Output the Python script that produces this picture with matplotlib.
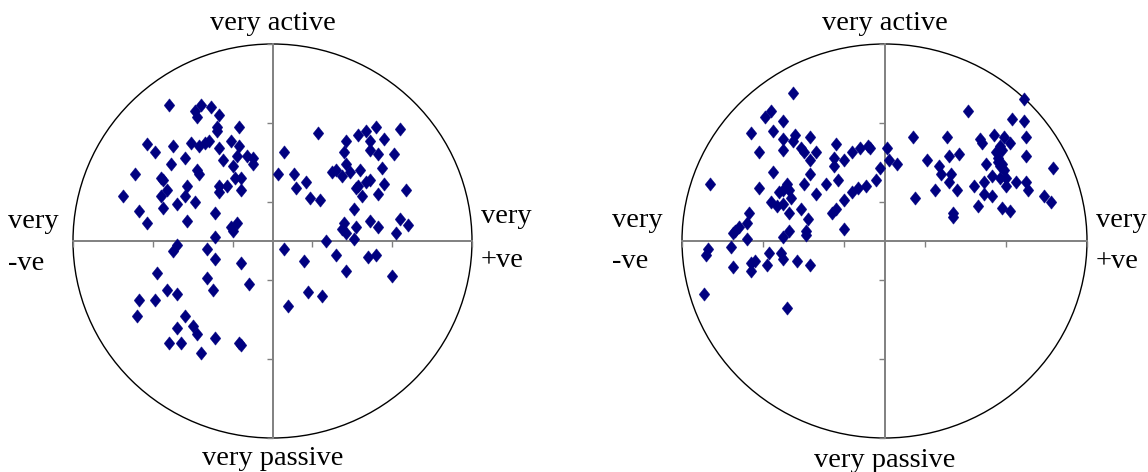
import matplotlib
matplotlib.use("Agg")
import matplotlib.pyplot as plt
from matplotlib.patches import Ellipse
from matplotlib.path import Path

plt.rcParams['font.family'] = ['Liberation Serif', 'DejaVu Serif']

# ---------------- data (valence x, activity y) ----------------
left_x = [-0.52, -0.39, -0.36, -0.38, -0.31, -0.27, -0.28, -0.28, -0.17,
          -0.63, -0.59, -0.50, -0.41, -0.37, -0.34, -0.32, -0.27, -0.21, -0.17,
          -0.51, -0.44, -0.25, -0.20, -0.18, -0.13, -0.10, -0.10,
          -0.69, -0.56, -0.55, -0.38, -0.37, -0.19, -0.16,
          -0.75, -0.56, -0.53, -0.43, -0.44, -0.27, -0.27, -0.23, -0.16,
          -0.67, -0.55, -0.48, -0.39, -0.29,
          -0.63, -0.43, -0.21, -0.18, -0.20, -0.29,
          -0.48, -0.50, -0.33,
          -0.29, -0.16, -0.58, -0.33, -0.12, -0.30, -0.53, -0.48, -0.67, -0.59,
          -0.68, -0.44, -0.48, -0.40, -0.38, -0.29, -0.52, -0.46, -0.36, -0.17, -0.16,
          0.23, 0.37, 0.43, 0.47, 0.52, 0.56, 0.64, 0.49,
          0.06, 0.36, 0.49, 0.53, 0.61,
          0.03, 0.11, 0.17, 0.12, 0.30, 0.32, 0.35, 0.37, 0.39, 0.44, 0.55,
          0.19, 0.24, 0.43, 0.47, 0.49, 0.45, 0.53, 0.56, 0.67, 0.42,
          0.41, 0.36, 0.35, 0.37, 0.42, 0.49, 0.53, 0.64, 0.68, 0.62, 0.41, 0.27,
          0.06, 0.16, 0.32, 0.48, 0.52, 0.37, 0.60, 0.18, 0.25, 0.08]
left_y = [0.69, 0.66, 0.69, 0.63, 0.68, 0.64, 0.58, 0.56, 0.58,
          0.49, 0.45, 0.48, 0.50, 0.48, 0.50, 0.51, 0.47, 0.51, 0.48,
          0.39, 0.42, 0.41, 0.38, 0.43, 0.43, 0.42, 0.39,
          0.34, 0.32, 0.31, 0.36, 0.34, 0.32, 0.32,
          0.23, 0.23, 0.26, 0.28, 0.23, 0.28, 0.25, 0.28, 0.26,
          0.15, 0.17, 0.19, 0.20, 0.14,
          0.09, 0.10, 0.07, 0.09, 0.05, 0.02,
          -0.02, -0.05, -0.04,
          -0.09, -0.11, -0.16, -0.19, -0.22, -0.25, -0.25, -0.27, -0.30, -0.30,
          -0.38, -0.38, -0.44, -0.43, -0.47, -0.49, -0.52, -0.52, -0.57, -0.52, -0.53,
          0.55, 0.51, 0.54, 0.56, 0.58, 0.52, 0.57, 0.51,
          0.45, 0.45, 0.46, 0.44, 0.44,
          0.34, 0.34, 0.30, 0.27, 0.35, 0.36, 0.33, 0.39, 0.35, 0.36, 0.37,
          0.22, 0.21, 0.28, 0.30, 0.31, 0.23, 0.24, 0.29, 0.26, 0.27,
          0.16, 0.09, 0.06, 0.04, 0.07, 0.10, 0.07, 0.11, 0.08, 0.04, 0.01, 0.00,
          -0.04, -0.10, -0.07, -0.08, -0.07, -0.15, -0.18, -0.26, -0.28, -0.33]

right_x = [-0.45, -0.59, -0.56, -0.50, -0.66, -0.55, -0.44, -0.50, -0.45, -0.37,
           -0.50, -0.62, -0.41, -0.40, -0.37, -0.34, -0.24, -0.16, -0.12, -0.08,
           -0.07, 0.01, -0.86, -0.55, -0.62, -0.52, -0.50, -0.48, -0.47, -0.46,
           -0.56, -0.53, -0.50, -0.40, -0.37, -0.34, -0.29, -0.25, -0.25, -0.20,
           -0.23, -0.20, -0.16, -0.13, -0.09, -0.04, -0.02, 0.02, 0.06,
           -0.67, -0.68, -0.72, -0.74, -0.75, -0.68, -0.47, -0.41, -0.38, -0.39,
           -0.39, -0.47, -0.50, -0.26, -0.24, -0.20,
           -0.76, -0.87, -0.88, -0.57, -0.58, -0.51, -0.50, -0.43, -0.37, -0.75,
           -0.66, -0.64, -0.66, -0.89, -0.48,
           0.69, 0.41, 0.63, 0.69, 0.14, 0.31, 0.47, 0.48, 0.54, 0.59, 0.62, 0.70,
           0.57, 0.58, 0.55, 0.70, 0.21, 0.32, 0.37, 0.27, 0.28, 0.33, 0.32,
           0.50, 0.56, 0.58, 0.59, 0.53, 0.57, 0.60, 0.60, 0.65, 0.70, 0.71,
           0.83, 0.79, 0.82, 0.15, 0.25, 0.36, 0.44, 0.49, 0.49, 0.53, 0.46,
           0.58, 0.62, 0.34, 0.34, 0.56, 0.57]
right_y = [0.75, 0.63, 0.66, 0.61, 0.55, 0.56, 0.54, 0.52, 0.51, 0.53,
           0.46, 0.45, 0.47, 0.45, 0.41, 0.45, 0.49, 0.45, 0.47, 0.48,
           0.47, 0.47, 0.29, 0.35, 0.27, 0.25, 0.26, 0.29, 0.26, 0.22,
           0.20, 0.18, 0.19, 0.29, 0.34, 0.24, 0.29, 0.42, 0.38, 0.41,
           0.31, 0.21, 0.25, 0.27, 0.28, 0.31, 0.37, 0.41, 0.39,
           0.14, 0.09, 0.07, 0.05, 0.04, 0.01, 0.14, 0.16, 0.11, 0.05,
           0.03, 0.05, 0.02, 0.14, 0.16, 0.06,
           -0.03, -0.04, -0.07, -0.06, -0.12, -0.06, -0.09, -0.10, -0.12, -0.13,
           -0.11, -0.10, -0.15, -0.27, -0.34,
           0.72, 0.66, 0.62, 0.61, 0.53, 0.53, 0.52, 0.50, 0.54, 0.53, 0.50, 0.53,
           0.48, 0.46, 0.45, 0.43, 0.41, 0.43, 0.44, 0.38, 0.34, 0.34, 0.30,
           0.39, 0.40, 0.39, 0.36, 0.33, 0.32, 0.32, 0.28, 0.30, 0.30, 0.26,
           0.37, 0.23, 0.20, 0.22, 0.26, 0.26, 0.28, 0.30, 0.24, 0.23, 0.18,
           0.17, 0.15, 0.14, 0.12, 0.42, 0.38]

ticks = [-1.0, -0.6, -0.2, 0.2, 0.6, 1.0]
label_top = "very active"
label_bottom = "very passive"
label_left = ("very", "-ve")
label_right = ("very", "+ve")

# ---------------- figure ----------------
W, H = 1148, 472
fig = plt.figure(figsize=(W / 100, H / 100), dpi=100)
ax1 = fig.add_axes([73 / W, 34 / H, 399 / W, 394 / H])
ax2 = fig.add_axes([682 / W, 34 / H, 405 / W, 394 / H])

diamond = Path([(0, 1), (0.8, 0), (0, -1), (-0.8, 0), (0, 1)],
               [Path.MOVETO, Path.LINETO, Path.LINETO, Path.LINETO, Path.CLOSEPOLY])

FS = 20.5


def draw(ax, xs, ys, lx, rx, side_y, bottom_y):
    ax.set_xlim(-1, 1)
    ax.set_ylim(-1, 1)
    ax.patch.set_visible(False)
    for s in ("top", "right"):
        ax.spines[s].set_visible(False)
    for s in ("left", "bottom"):
        ax.spines[s].set_position("zero")
        ax.spines[s].set_color("#808080")
        ax.spines[s].set_linewidth(1.4)
    ax.set_xticks(ticks)
    ax.set_yticks(ticks)
    ax.set_xticklabels([])
    ax.set_yticklabels([])
    ax.tick_params(direction="out", length=4, width=1, color="#808080")
    ax.add_patch(Ellipse((0, 0), 2, 2, fill=False, ec="black", lw=1.0,
                         clip_on=False, zorder=1))
    ax.scatter(xs, ys, marker=diamond, s=92, c="#000080", edgecolors="#000080",
               linewidths=0.3, clip_on=False, zorder=3)
    kw = dict(fontsize=FS, va="baseline", clip_on=False, color="black")
    ax.text(0, 1.071, label_top, ha="center", **kw)
    ax.text(0, bottom_y, label_bottom, ha="center", **kw)
    ax.text(lx, side_y[0], label_left[0], ha="left", **kw)
    ax.text(lx, side_y[1], label_left[1], ha="left", **kw)
    ax.text(rx, side_y[2], label_right[0], ha="left", **kw)
    ax.text(rx, side_y[3], label_right[1], ha="left", **kw)


draw(ax1, left_x, left_y, -1.327, 1.045, (0.066, -0.147, 0.091, -0.132), -1.137)
draw(ax2, right_x, right_y, -1.346, 1.044, (0.071, -0.137, 0.071, -0.137), -1.147)

fig.savefig("out.png", dpi=100)
